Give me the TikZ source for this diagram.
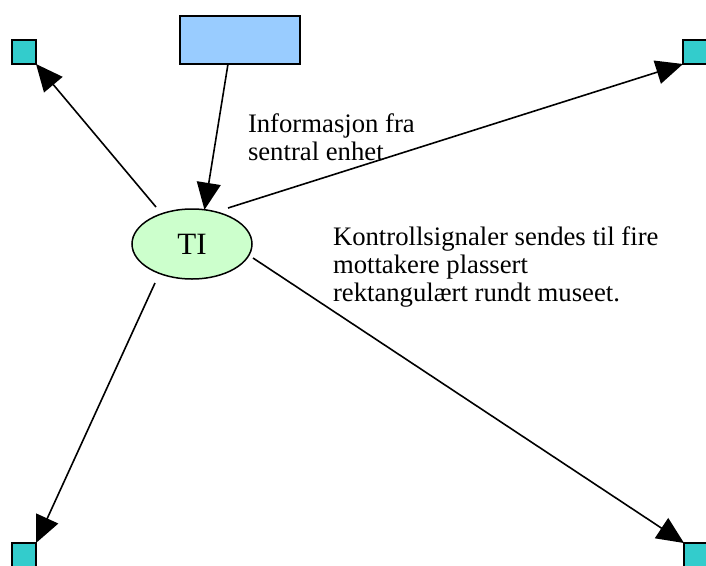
\documentclass[tikz,border=0pt]{standalone}
\usepackage{fontspec}
\setmainfont{Liberation Serif}
\usetikzlibrary{arrows.meta,shapes.geometric}
\definecolor{sqfill}{HTML}{33CCCC}
\definecolor{rectfill}{HTML}{99CCFF}
\definecolor{ellfill}{HTML}{CCFFCC}
\begin{document}
\begin{tikzpicture}[x=1pt,y=-1pt,
  recv/.style={draw=black,line width=1.5pt,fill=sqfill,minimum size=24pt,inner sep=0pt,outer sep=0pt},
  central/.style={draw=black,line width=1.5pt,fill=rectfill,minimum width=120pt,minimum height=48pt,inner sep=0pt,outer sep=0pt},
  tinode/.style={ellipse,draw=black,line width=1.5pt,fill=ellfill,minimum width=120pt,minimum height=70pt,inner sep=0pt,outer sep=0pt,font=\fontsize{31}{33}\selectfont},
  conn/.style={line width=1.6pt,-{Triangle[length=27pt,width=24pt]}},
  lbl/.style={inner sep=0pt,outer sep=0pt,align=left,font=\fontsize{26.7}{28}\selectfont}]
\useasboundingbox[fill=white] (0,0) rectangle (706,565);
\node[recv] (tl) at (24,52) {};
\node[recv] (tr) at (695,52) {};
\node[recv] (bl) at (24,555) {};
\node[recv] (br) at (696,555) {};
\node[central] (ce) at (240,40) {};
\node[tinode] (ti) at (192,244) {TI};
\coordinate (stl) at (156,207);
\coordinate (str) at (228,208);
\coordinate (sbr) at (253,258);
\coordinate (sbl) at (155,283);
\draw[conn] ([xshift=-12pt]ce.south) -- (ti.70);
\draw[conn] (stl) -- (tl.south east);
\draw[conn] (str) -- (tr.south west);
\draw[conn] (sbr) -- (br.north west);
\draw[conn] (sbl) -- (bl.north east);
\node[lbl,anchor=base west] (info) at (248,160) {Informasjon fra\\sentral enhet};
\node[lbl,anchor=base west] (ctrl) at (333,301) {Kontrollsignaler sendes til fire\\mottakere plassert\\rektangulært rundt museet.};
\end{tikzpicture}
\end{document}
